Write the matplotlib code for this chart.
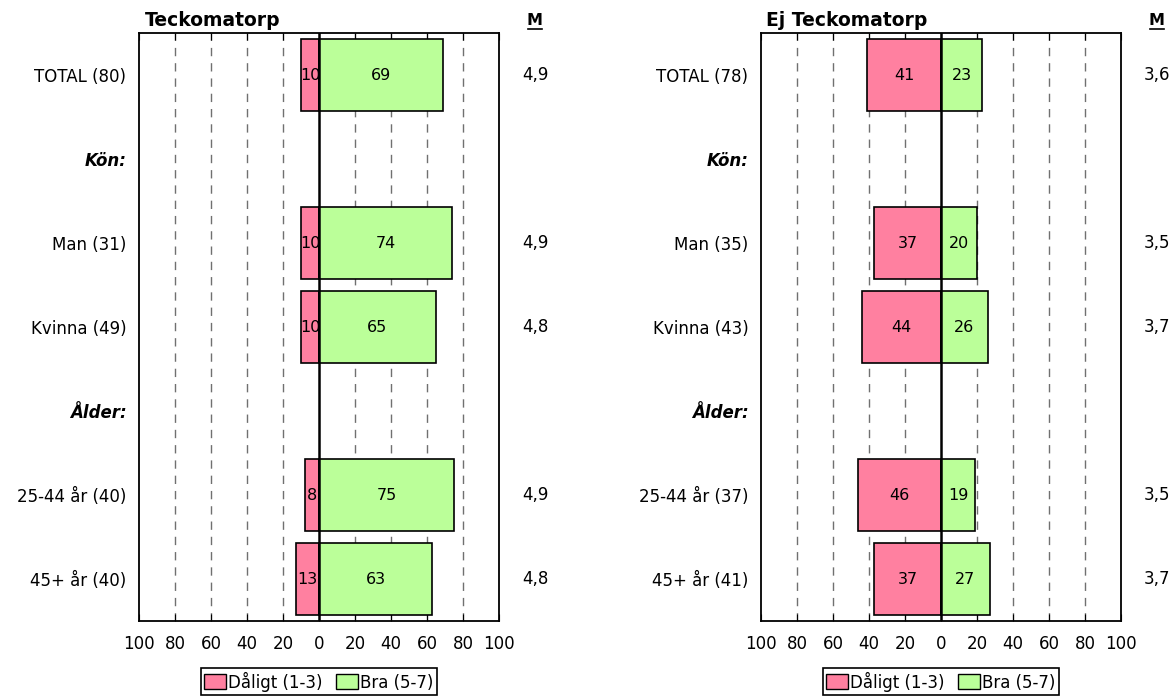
import numpy as np
import matplotlib.pyplot as plt
from matplotlib.patches import Patch

# Rows (top to bottom); None = header row without bars
rows = ['TOTAL (80)', 'Kön:', 'Man (31)', 'Kvinna (49)', 'Ålder:', '25-44 år (40)', '45+ år (40)']
rows_ej = ['TOTAL (78)', 'Kön:', 'Man (35)', 'Kvinna (43)', 'Ålder:', '25-44 år (37)', '45+ år (41)']
headers = ['Kön:', 'Ålder:']

bad_teck = [10, None, 10, 10, None, 8, 13]
good_teck = [69, None, 74, 65, None, 75, 63]
mean_teck = ['4,9', '', '4,9', '4,8', '', '4,9', '4,8']

bad_ej = [41, None, 37, 44, None, 46, 37]
good_ej = [23, None, 20, 26, None, 19, 27]
mean_ej = ['3,6', '', '3,5', '3,7', '', '3,5', '3,7']

pink = '#FF80A0'
green = '#BBFF99'

fig = plt.figure(figsize=(11.75, 6.96), dpi=100)
W, H = 1175, 696


def panel(x0, title, labels, bad, good, means):
    ax = fig.add_axes([x0 / W, 75 / H, 360 / W, 588 / H])
    y = np.arange(len(labels))
    for i in y:
        if bad[i] is None:
            continue
        ax.barh(i, -bad[i], height=0.86, color=pink, edgecolor='black', linewidth=1.2, zorder=3)
        ax.barh(i, good[i], height=0.86, color=green, edgecolor='black', linewidth=1.2, zorder=3)
        ax.text(-bad[i] / 2, i, str(bad[i]), ha='center', va='center', fontsize=11.5, zorder=5)
        ax.text(good[i] / 2, i, str(good[i]), ha='center', va='center', fontsize=11.5, zorder=5)
    ax.set_xlim(-100, 100)
    ax.set_ylim(len(labels) - 0.5, -0.5)
    ax.axvline(0, color='black', linewidth=1.8, zorder=4)
    for g in [-80, -60, -40, -20, 20, 40, 60, 80]:
        ax.axvline(g, color='#707070', linestyle=(0, (6, 5)), linewidth=1, zorder=1)
    ticks = np.arange(-100, 101, 20)
    ax.set_xticks(ticks)
    ax.set_xticklabels([str(abs(t)) for t in ticks], fontsize=12)
    ax.tick_params(axis='x', direction='in', top=True, length=5, pad=10)
    ax.set_yticks(y)
    ax.set_yticklabels(labels, fontsize=12)
    for lab in ax.get_yticklabels():
        if lab.get_text() in headers:
            lab.set_fontweight('bold')
            lab.set_fontstyle('italic')
    ax.tick_params(axis='y', length=0, pad=9)
    for s in ax.spines.values():
        s.set_linewidth(1.3)
    ax.text(0.015, 1.005, title, transform=ax.transAxes, ha='left', va='bottom',
            fontsize=13.5, fontweight='bold')
    mx = 1.1
    ax.text(mx, 1.008, 'M', transform=ax.transAxes, ha='center', va='bottom',
            fontsize=11.5, fontweight='bold')
    ax.plot([mx - 0.02, mx + 0.02], [1.006, 1.006], transform=ax.transAxes,
            color='black', linewidth=1.2, clip_on=False)
    for i, m in enumerate(means):
        ax.text(mx, i, m, transform=ax.get_yaxis_transform(), ha='center', va='center', fontsize=12)
    handles = [Patch(facecolor=pink, edgecolor='black', label='Dåligt (1-3)'),
               Patch(facecolor=green, edgecolor='black', label='Bra (5-7)')]
    leg = ax.legend(handles=handles, loc='center', bbox_to_anchor=(0.5, -0.103), ncol=2,
                    fontsize=12, frameon=True, fancybox=False, edgecolor='black', framealpha=1,
                    handlelength=1.3, handleheight=1.0, handletextpad=0.15,
                    columnspacing=0.8, borderpad=0.2, borderaxespad=0)
    leg.get_frame().set_linewidth(1.2)
    return ax


panel(139, 'Teckomatorp', rows, bad_teck, good_teck, mean_teck)
panel(761, 'Ej Teckomatorp', rows_ej, bad_ej, good_ej, mean_ej)

fig.savefig('out.png', dpi=100)
